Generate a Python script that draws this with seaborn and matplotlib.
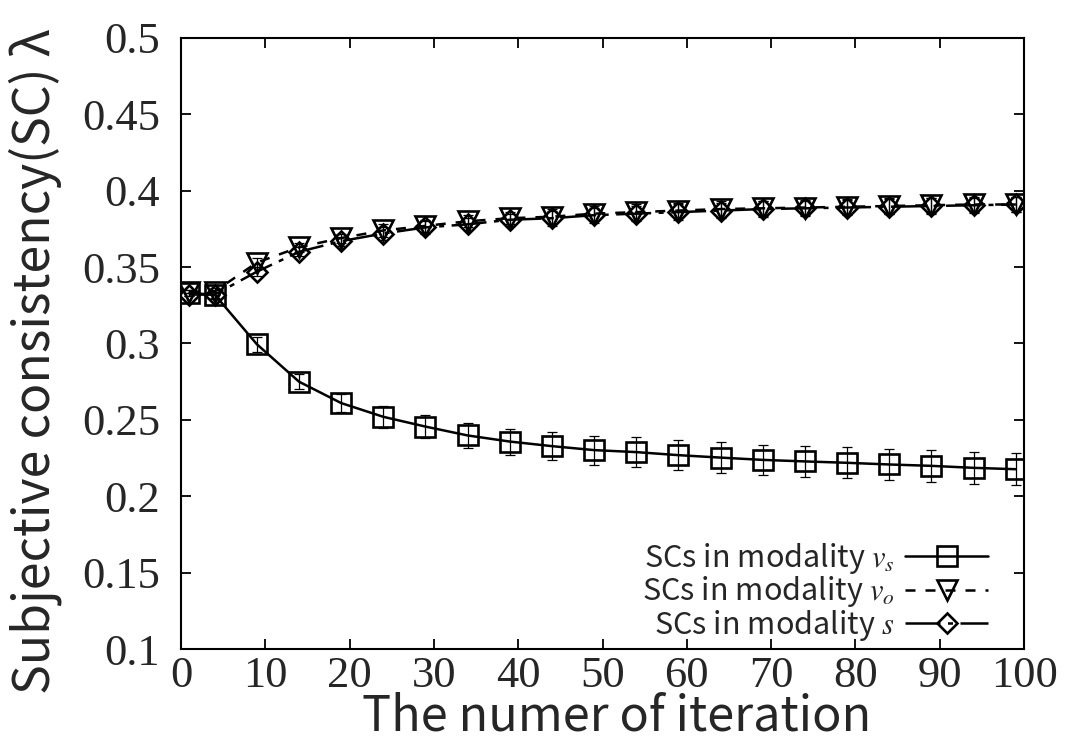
import numpy as np
import pandas as pd
import matplotlib
matplotlib.use("Agg")
import matplotlib.pyplot as plt
import seaborn as sns

# Iterations at which the subjective consistencies were recorded
iterations = [1, 4, 9, 14, 19, 24, 29, 34, 39, 44, 49, 54, 59, 64, 69, 74, 79, 84, 89, 94, 99]

# Mean SC per modality and its spread
sc_vs = [0.333, 0.332, 0.2995, 0.275, 0.261, 0.252, 0.2456, 0.2398, 0.2358, 0.2328, 0.2302,
         0.2289, 0.2269, 0.2253, 0.2238, 0.2228, 0.2219, 0.2208, 0.2199, 0.2186, 0.2177]
err_vs = [0.002, 0.003, 0.005, 0.005, 0.006, 0.007, 0.0075, 0.008, 0.0085, 0.009, 0.0095,
          0.0098, 0.010, 0.010, 0.010, 0.0102, 0.0102, 0.0103, 0.0103, 0.0104, 0.0105]

sc_vo = [0.334, 0.334, 0.353, 0.363, 0.369, 0.374, 0.377, 0.380, 0.382, 0.383, 0.385,
         0.386, 0.387, 0.388, 0.3885, 0.389, 0.3895, 0.390, 0.3905, 0.391, 0.391]
err_vo = [0.001, 0.002, 0.003, 0.003, 0.003, 0.004, 0.004, 0.004, 0.004, 0.005, 0.005,
          0.005, 0.005, 0.005, 0.005, 0.005, 0.005, 0.005, 0.005, 0.005, 0.005]

sc_s = [0.332, 0.332, 0.347, 0.360, 0.367, 0.372, 0.376, 0.378, 0.381, 0.382, 0.384,
        0.385, 0.386, 0.387, 0.388, 0.3885, 0.389, 0.3895, 0.390, 0.3905, 0.391]
err_s = [0.001, 0.002, 0.003, 0.003, 0.003, 0.004, 0.004, 0.004, 0.004, 0.005, 0.005,
         0.005, 0.005, 0.005, 0.005, 0.005, 0.005, 0.005, 0.005, 0.005, 0.005]

labels = [r"SCs in modality $v_s$", r"SCs in modality $v_o$", r"SCs in modality $s$"]

x_ticks = [0, 10, 20, 30, 40, 50, 60, 70, 80, 90, 100]
y_ticks = [0.1, 0.15, 0.2, 0.25, 0.3, 0.35, 0.4, 0.45, 0.5]
y_tick_labels = ["0.1", "0.15", "0.2", "0.25", "0.3", "0.35", "0.4", "0.45", "0.5"]

sns.set_theme(style="ticks")
plt.rcParams["font.family"] = ["Noto Sans CJK JP", "DejaVu Sans"]
plt.rcParams["mathtext.fontset"] = "stix"

fig = plt.figure(figsize=(10.69, 7.43), dpi=100)
ax = fig.add_axes([0.1693, 0.1265, 0.958 - 0.1693, 0.9489 - 0.1265])

series = [
    (sc_vs, err_vs, labels[0], "s", 14, "-"),
    (sc_vo, err_vo, labels[1], "v", 15, (0, (4, 4))),
    (sc_s, err_s, labels[2], "D", 10.5, (0, (14, 3, 2, 3))),
]

for vals, errs, lab, mk, ms, ls in series:
    df = pd.DataFrame({"iteration": iterations, "sc": vals})
    ax.errorbar(iterations, vals, yerr=errs, fmt="none", ecolor="black",
                elinewidth=0.9, capsize=3.5, capthick=0.9, zorder=2)
    sns.lineplot(data=df, x="iteration", y="sc", ax=ax, color="black",
                 linewidth=1.8, linestyle=ls, marker=mk, markersize=ms,
                 markerfacecolor="none", markeredgecolor="black",
                 markeredgewidth=1.9, label=lab, zorder=3)

ax.set_xlim(0, 100)
ax.set_ylim(0.1, 0.5)
ax.set_xticks(x_ticks)
ax.set_yticks(y_ticks)
ax.set_xticklabels([str(t) for t in x_ticks], family="Liberation Serif", fontsize=32)
ax.set_yticklabels(y_tick_labels, family="Liberation Serif", fontsize=32)
ax.tick_params(axis="both", direction="in", length=7, width=1.3,
               top=True, right=True, color="black")
ax.tick_params(axis="x", pad=5)
ax.tick_params(axis="y", pad=15)
for sp in ax.spines.values():
    sp.set_linewidth(1.5)
    sp.set_color("black")
    sp.set_visible(True)

ax.set_xlabel("The numer of iteration", fontsize=35)
ax.set_ylabel("Subjective consistency(SC) λ", fontsize=36)
ax.xaxis.set_label_coords(0.517, -0.071)
ax.yaxis.set_label_coords(-0.141, 0.471)

leg = ax.legend(loc="lower right", bbox_to_anchor=(0.957, 0.01), markerfirst=False,
                frameon=False, fontsize=22, handlelength=2.7, handletextpad=0.35,
                labelspacing=-0.05, borderpad=0, borderaxespad=0)

ax.grid(False)
fig.savefig("out.png", dpi=100)
